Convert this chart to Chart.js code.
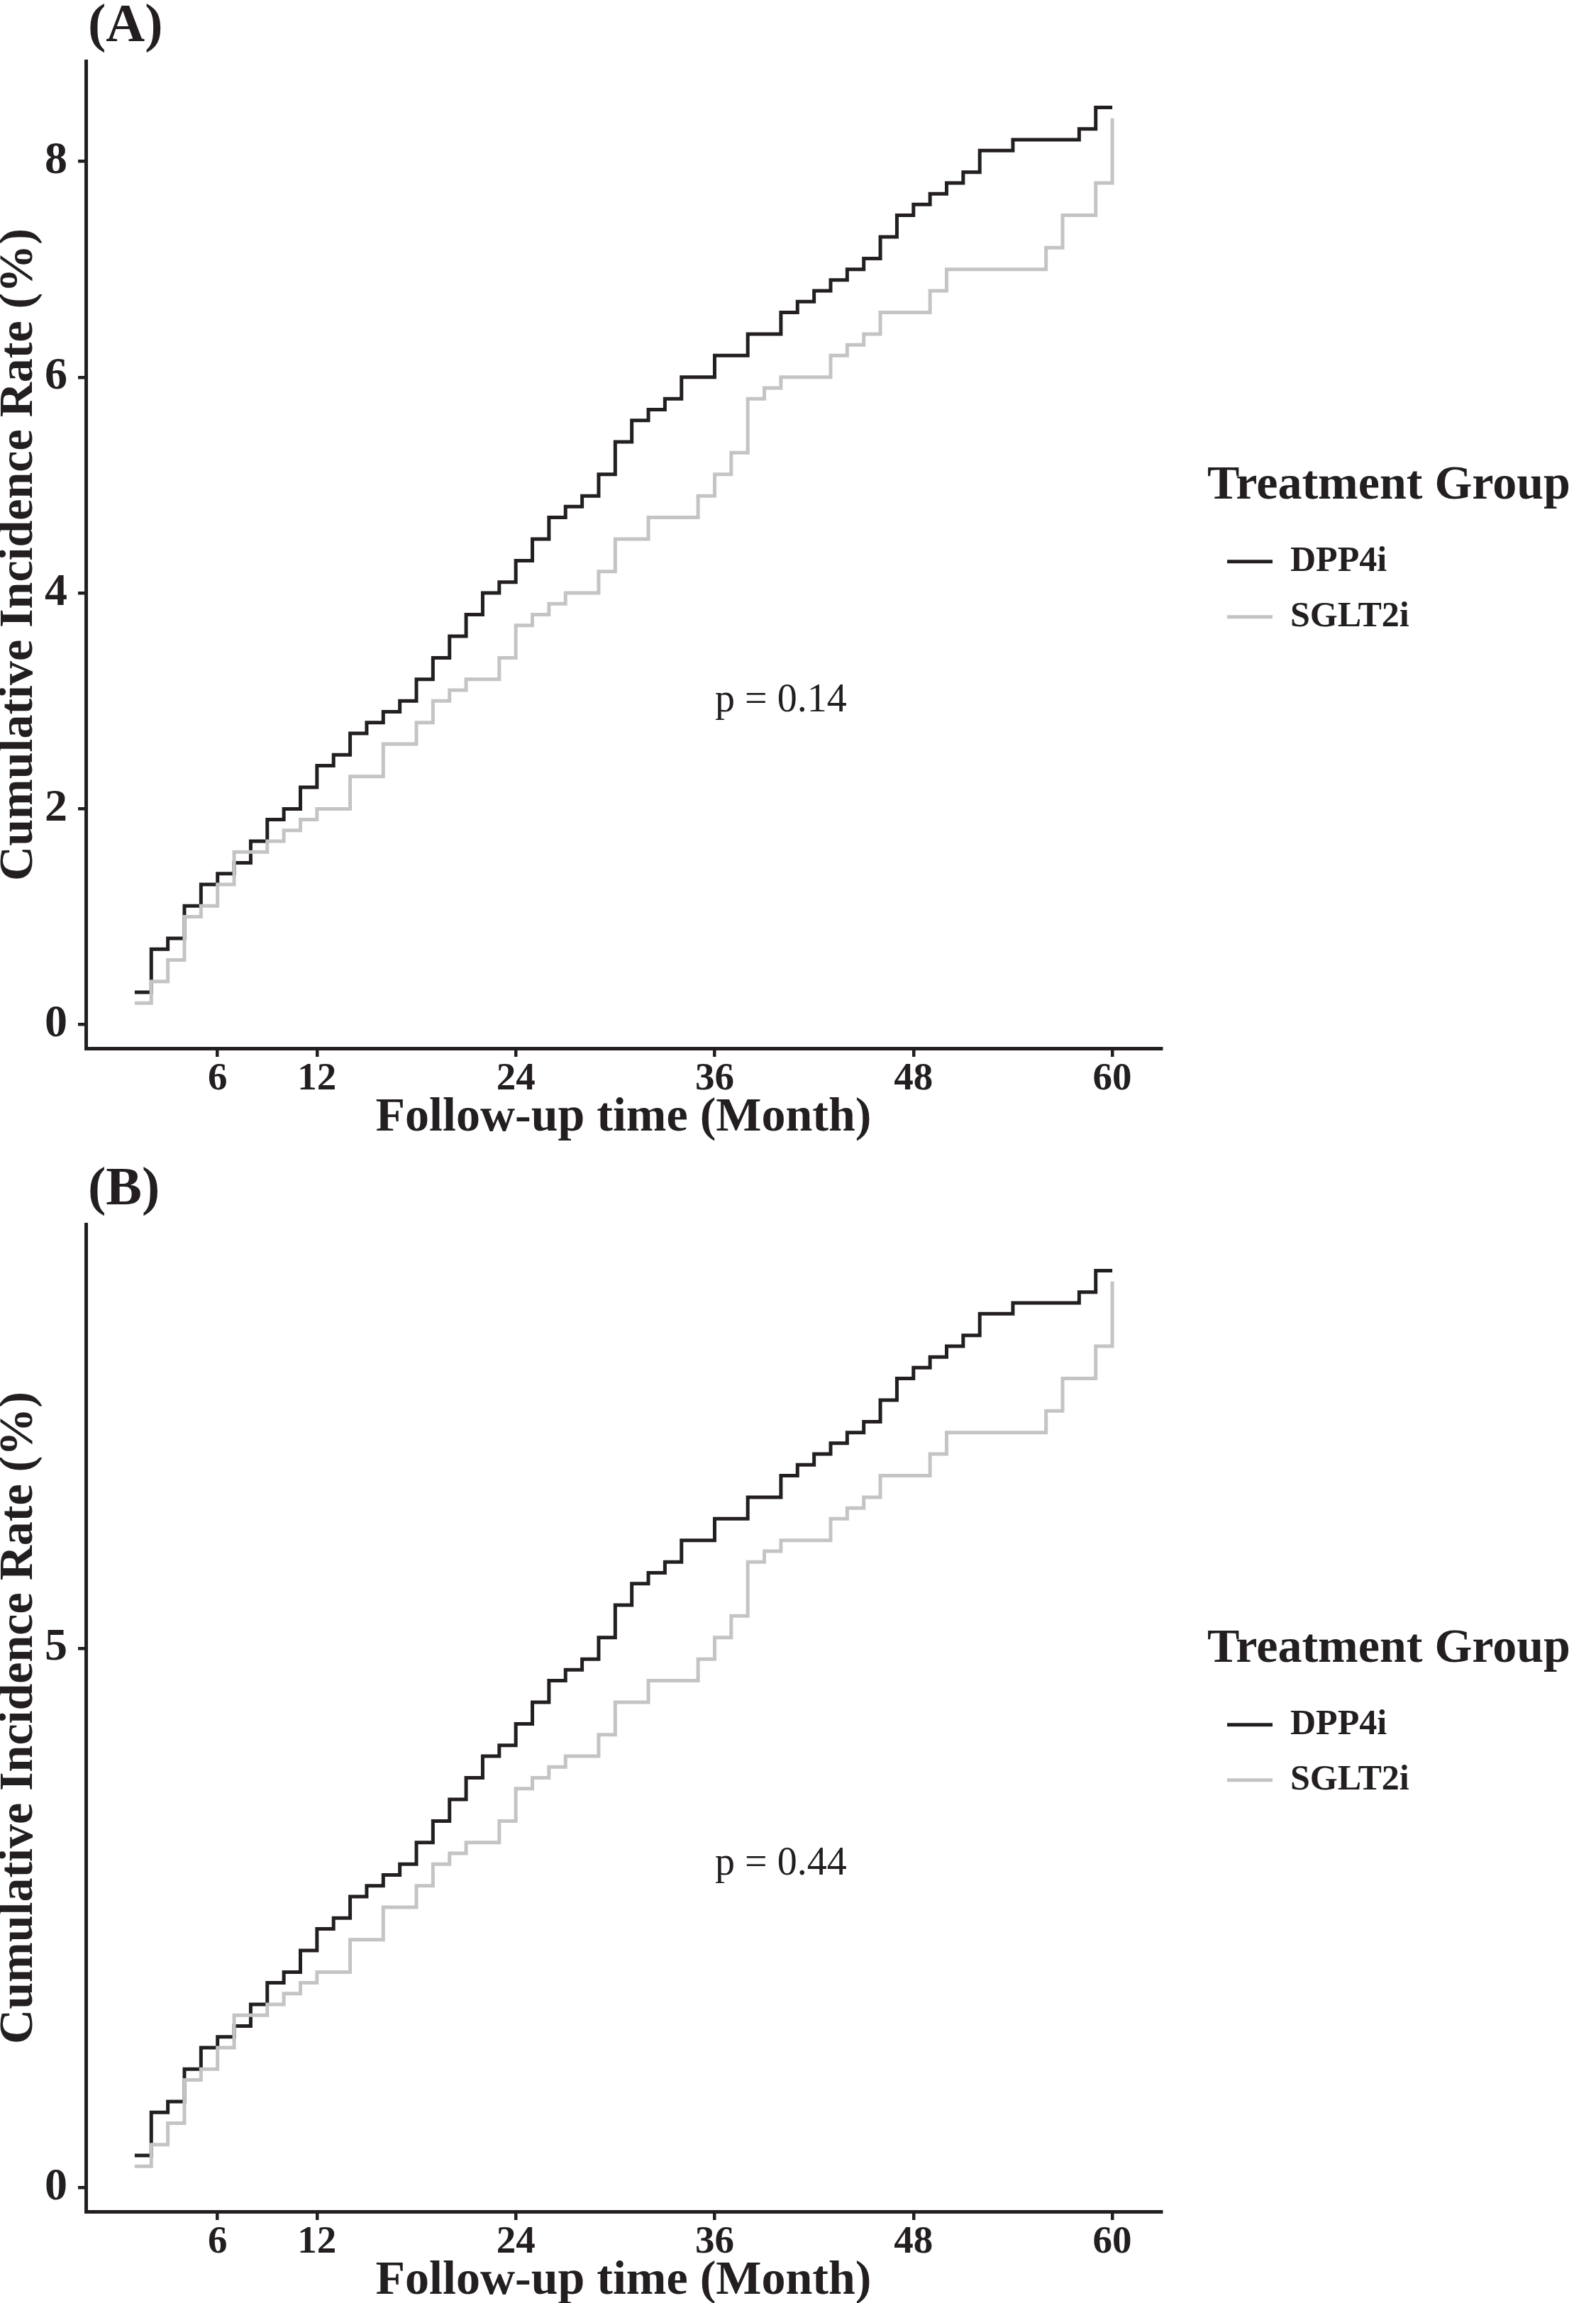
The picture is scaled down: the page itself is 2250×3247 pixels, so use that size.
<!DOCTYPE html>
<html>
<head>
<meta charset="utf-8">
<script src="https://cdn.jsdelivr.net/npm/chart.js@4.4.1/dist/chart.umd.min.js"></script>
<style>
  html, body { margin: 0; padding: 0; background: #fff; }
  #page { position: relative; width: 2250px; height: 3247px; overflow: hidden; }
  canvas { position: absolute; left: 0; }
</style>
</head>
<body>
<div id="page">
  <canvas id="panelA" width="2250" height="1640" style="top:0"></canvas>
  <canvas id="panelB" width="2250" height="1640" style="top:1640px"></canvas>
</div>
<script>
// follow-up month at which each step value starts
const months = [1, 2, 3, 4, 5, 6, 7, 8, 9, 10,
  11, 12, 13, 14, 15, 16, 17, 18, 19, 20,
  21, 22, 23, 24, 25, 26, 27, 28, 29, 30,
  31, 32, 33, 34, 35, 36, 37, 38, 39, 40,
  41, 42, 43, 44, 45, 46, 47, 48, 49, 50,
  51, 52, 53, 54, 55, 56, 57, 58, 59, 60];

// cumulative incidence (%)
const dpp4i = [0.3, 0.7, 0.8, 1.1, 1.3, 1.4, 1.5, 1.7, 1.9, 2.0,
  2.2, 2.4, 2.5, 2.7, 2.8, 2.9, 3.0, 3.2, 3.4, 3.6,
  3.8, 4.0, 4.1, 4.3, 4.5, 4.7, 4.8, 4.9, 5.1, 5.4,
  5.6, 5.7, 5.8, 6.0, 6.0, 6.2, 6.2, 6.4, 6.4, 6.6,
  6.7, 6.8, 6.9, 7.0, 7.1, 7.3, 7.5, 7.6, 7.7, 7.8,
  7.9, 8.1, 8.1, 8.2, 8.2, 8.2, 8.2, 8.3, 8.5, 8.5];

const sglt2i = [0.2, 0.4, 0.6, 1.0, 1.1, 1.3, 1.6, 1.6, 1.7, 1.8,
  1.9, 2.0, 2.0, 2.3, 2.3, 2.6, 2.6, 2.8, 3.0, 3.1,
  3.2, 3.2, 3.4, 3.7, 3.8, 3.9, 4.0, 4.0, 4.2, 4.5,
  4.5, 4.7, 4.7, 4.7, 4.9, 5.1, 5.3, 5.8, 5.9, 6.0,
  6.0, 6.0, 6.2, 6.3, 6.4, 6.6, 6.6, 6.6, 6.8, 7.0,
  7.0, 7.0, 7.0, 7.0, 7.0, 7.2, 7.5, 7.5, 7.8, 8.4];

const groupNames = ['DPP4i', 'SGLT2i'];
const xTicks = [6, 12, 24, 36, 48, 60];
const yTicksA = [0, 2, 4, 6, 8];
const yTicksB = [0, 5];
const pLabels = ['p = 0.14', 'p = 0.44'];

const INK = '#231f20';
const GREY = '#c4c4c4';
const SERIF = '"Liberation Serif", "Times New Roman", serif';

Chart.defaults.font.family = SERIF;
Chart.defaults.color = INK;

// panel tag and p value
const panelText = {
  id: 'panelText',
  beforeLayout(chart) {
    // legend box wide enough for its title (it is clipped to its box)
    const lg = chart.legend;
    if (lg && !lg._wide) {
      const fit = lg.fit;
      lg.fit = function () { fit.call(this); this.width = 548; };
      lg._wide = true;
    }
  },
  afterDraw(chart, args, opts) {
    const { ctx, chartArea, scales } = chart;
    ctx.save();
    ctx.fillStyle = INK;
    ctx.font = 'bold 76px ' + SERIF;
    ctx.textAlign = 'left';
    ctx.textBaseline = 'alphabetic';
    ctx.fillText(opts.tag, chartArea.left + 3, 58);
    ctx.font = '56px ' + SERIF;
    ctx.textAlign = 'center';
    ctx.textBaseline = 'middle';
    ctx.fillText(opts.pText, scales.x.getPixelForValue(opts.px), scales.y.getPixelForValue(opts.py));
    ctx.restore();
  }
};

function toPoints(values) {
  return months.map((m, i) => ({ x: m, y: values[i] }));
}

function makePanel(canvasId, tag, yTicks, pText) {
  new Chart(document.getElementById(canvasId), {
    type: 'line',
    data: {
      datasets: [{
        label: groupNames[0],
        data: toPoints(dpp4i),
        borderColor: INK,
        backgroundColor: INK,
        borderWidth: 5,
        stepped: 'before',
        pointRadius: 0,
        order: 1
      }, {
        label: groupNames[1],
        data: toPoints(sglt2i),
        borderColor: GREY,
        backgroundColor: GREY,
        borderWidth: 5,
        stepped: 'before',
        pointRadius: 0,
        order: 0
      }]
    },
    options: {
      responsive: false,
      animation: false,
      devicePixelRatio: 1,
      events: [],
      layout: { padding: { top: 86, left: 0, bottom: 0, right: 0 } },
      scales: {
        x: {
          type: 'linear',
          min: -1.95,
          max: 62.95,
          afterBuildTicks: s => { s.ticks = xTicks.map(v => ({ value: v })); },
          afterFit: s => { s.height = 162; },
          ticks: { font: { size: 55, weight: 'bold', lineHeight: 1 }, padding: 4, color: INK, maxRotation: 0, autoSkip: false },
          grid: { drawOnChartArea: false, drawTicks: true, tickLength: 12, color: INK, lineWidth: 4.5 },
          border: { display: true, color: INK, width: 5 },
          title: { display: true, text: 'Follow-up time (Month)', color: INK,
                   font: { size: 68, weight: 'bold', lineHeight: 1 }, padding: { top: 0, bottom: 30 } }
        },
        y: {
          type: 'linear',
          min: -0.219,
          max: 8.93,
          afterBuildTicks: s => { s.ticks = yTicks.map(v => ({ value: v })); },
          afterFit: s => { s.width = 121; },
          ticks: { font: { size: 64, weight: 'bold', lineHeight: 1 }, padding: 15, color: INK },
          grid: { drawOnChartArea: false, drawTicks: true, tickLength: 11, color: INK, lineWidth: 4.5 },
          border: { display: true, color: INK, width: 5 },
          title: { display: true, text: 'Cumulative Incidence Rate (%)', color: INK,
                   font: { size: 68, weight: 'bold', lineHeight: 1 }, padding: { top: -7, bottom: 0 } }
        },
        gap: {
          type: 'linear',
          position: 'right',
          display: true,
          afterFit: s => { s.width = 65; },
          ticks: { display: false },
          grid: { display: false },
          border: { display: false }
        }
      },
      plugins: {
        legend: {
          position: 'right',
          fullSize: false,
          labels: {
            usePointStyle: true,
            pointStyle: 'line',
            pointStyleWidth: 64,
            padding: 28,
            color: INK,
            font: { size: 50, weight: 'bold' },
            sort: (a, b) => a.datasetIndex - b.datasetIndex
          },
          title: {
            display: true,
            text: 'Treatment Group',
            position: 'start',
            color: INK,
            font: { size: 68, weight: 'bold' },
            padding: { top: 10, bottom: 6 }
          }
        },
        tooltip: { enabled: false },
        panelText: { tag: tag, pText: pText, px: 40, py: 3 }
      }
    },
    plugins: [panelText]
  });
}

makePanel('panelA', '(A)', yTicksA, pLabels[0]);
makePanel('panelB', '(B)', yTicksB, pLabels[1]);
</script>
</body>
</html>
